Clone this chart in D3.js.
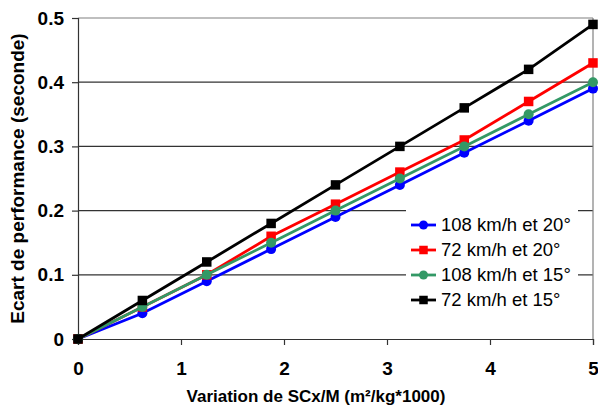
<!DOCTYPE html>
<html>
<head>
<meta charset="utf-8">
<script src="https://cdn.jsdelivr.net/npm/d3@7"></script>
<style>
  body { margin: 0; background: #fff; }
  text { font-family: "Liberation Sans", Arial, sans-serif; }
</style>
</head>
<body>
<svg id="chart"></svg>
<script>
// data
const xValues = [0, 0.625, 1.25, 1.875, 2.5, 3.125, 3.75, 4.375, 5];
const blue108_20 = [0, 0.04, 0.09, 0.14, 0.19, 0.24, 0.29, 0.34, 0.39];
const red72_20 = [0, 0.05, 0.10, 0.16, 0.21, 0.26, 0.31, 0.37, 0.43];
const green108_15 = [0, 0.05, 0.10, 0.15, 0.20, 0.25, 0.30, 0.35, 0.40];
const black72_15 = [0, 0.06, 0.12, 0.18, 0.24, 0.30, 0.36, 0.42, 0.49];
const seriesNames = ["108 km/h et 20°", "72 km/h et 20°", "108 km/h et 15°", "72 km/h et 15°"];
const xTicks = [0, 1, 2, 3, 4, 5];
const yTicks = [0, 0.1, 0.2, 0.3, 0.4, 0.5];

const width = 598, height = 411;
const margin = { left: 78, right: 5, top: 18, bottom: 72 };

const svg = d3.select("#chart").attr("width", width).attr("height", height);

const x = d3.scaleLinear().domain([0, 5]).range([margin.left, width - margin.right]);
const y = d3.scaleLinear().domain([0, 0.5]).range([height - margin.bottom, margin.top]);

const series = [
  { name: seriesNames[0], values: blue108_20, color: "#0000ff", shape: "circle" },
  { name: seriesNames[1], values: red72_20, color: "#ff0000", shape: "square" },
  { name: seriesNames[2], values: green108_15, color: "#339966", shape: "circle" },
  { name: seriesNames[3], values: black72_15, color: "#000000", shape: "square" }
];

// gridlines
svg.append("g")
  .selectAll("line")
  .data(yTicks.filter(d => d > 0))
  .enter()
  .append("line")
  .attr("x1", x(0)).attr("x2", x(5))
  .attr("y1", d => y(d)).attr("y2", d => y(d))
  .attr("stroke", d => d === 0.5 ? "#808080" : "#333")
  .attr("stroke-width", 1.2);

// right border
svg.append("line")
  .attr("x1", x(5)).attr("x2", x(5))
  .attr("y1", y(0.5)).attr("y2", y(0))
  .attr("stroke", "#808080").attr("stroke-width", 1.2);

// axes
const xAxis = svg.append("g")
  .attr("transform", `translate(0,${y(0)})`)
  .call(d3.axisBottom(x).tickValues(xTicks).tickSize(6).tickPadding(8).tickFormat(d3.format("d")));
const yAxis = svg.append("g")
  .attr("transform", `translate(${x(0)},0)`)
  .call(d3.axisLeft(y).tickValues(yTicks).tickSize(6).tickPadding(8)
    .tickFormat(d => d === 0 ? "0" : d3.format(".1f")(d)));

[xAxis, yAxis].forEach(a => {
  a.select(".domain").attr("stroke", "#333").attr("stroke-width", 1.2);
  a.selectAll(".tick line").attr("stroke", "#333").attr("stroke-width", 1.2);
  a.selectAll("text")
    .attr("fill", "#000")
    .style("font-size", "19px")
    .style("font-weight", "bold")
    .style("font-family", "'Liberation Sans', Arial, sans-serif");
});
xAxis.selectAll("text").attr("y", 36).attr("dy", null);
yAxis.selectAll("text").attr("x", -14);

// lines and markers
const line = d3.line().x((d, i) => x(xValues[i])).y(d => y(d));

function drawMarker(g, shape, color, cx, cy, size) {
  if (shape === "circle") {
    g.append("circle").attr("cx", cx).attr("cy", cy).attr("r", size / 2).attr("fill", color);
  } else {
    g.append("rect").attr("x", cx - size / 2).attr("y", cy - size / 2)
      .attr("width", size).attr("height", size).attr("fill", color);
  }
}

series.forEach(s => {
  const g = svg.append("g");
  g.append("path")
    .datum(s.values)
    .attr("d", line)
    .attr("fill", "none")
    .attr("stroke", s.color)
    .attr("stroke-width", 2.8);
  s.values.forEach((v, i) => drawMarker(g, s.shape, s.color, x(xValues[i]), y(v), s.shape === "circle" ? 10 : 9.5));
});

// legend
const legend = svg.append("g");
legend.append("rect")
  .attr("x", 406).attr("y", 210).attr("width", 172).attr("height", 102)
  .attr("fill", "#fff");
series.forEach((s, i) => {
  const ly = 225 + i * 25;
  legend.append("line")
    .attr("x1", 411).attr("x2", 436).attr("y1", ly).attr("y2", ly)
    .attr("stroke", s.color).attr("stroke-width", 2.8);
  drawMarker(legend, s.shape, s.color, 423.5, ly, s.shape === "circle" ? 9 : 8.5);
  legend.append("text")
    .attr("x", 441).attr("y", ly)
    .attr("dy", "0.35em")
    .style("font-size", "18.5px")
    .text(s.name);
});

// axis titles
svg.append("text")
  .attr("x", 316).attr("y", 402)
  .attr("text-anchor", "middle")
  .style("font-size", "17px").style("font-weight", "bold")
  .text("Variation de SCx/M (m²/kg*1000)");

svg.append("text")
  .attr("transform", `translate(24,${(y(0) + y(0.5)) / 2}) rotate(-90)`)
  .attr("text-anchor", "middle")
  .style("font-size", "19px").style("font-weight", "bold")
  .text("Ecart de performance (seconde)");
</script>
</body>
</html>
